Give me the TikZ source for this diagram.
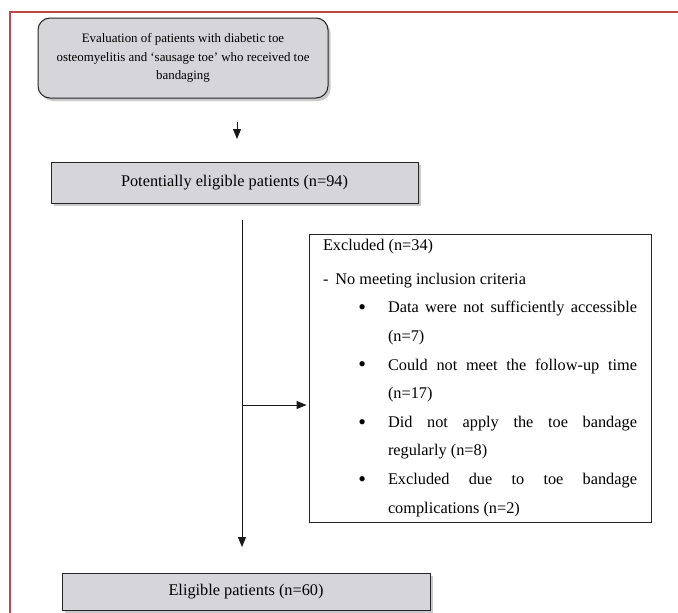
\documentclass[tikz,border=0pt]{standalone}
\usepackage{fontspec}
\setmainfont{Liberation Serif}
\usetikzlibrary{arrows.meta,shadows}
\definecolor{framered}{RGB}{192,70,78}
\definecolor{boxgray}{RGB}{214,214,218}
\newcommand{\bulitem}{\leavevmode\llap{\raisebox{-1.8pt}{\fontsize{22}{22}\selectfont\textbullet}\hspace{22pt}}}
\begin{document}
\begin{tikzpicture}[x=1pt,y=-1pt,
  graybox/.style={draw=black!85,line width=1pt,fill=boxgray,
    drop shadow={shadow xshift=2.5pt,shadow yshift=-3pt,opacity=0.35,fill=black!60},
    inner sep=0pt,align=center},
  plainbox/.style={draw=black!85,line width=0.9pt,fill=white,inner sep=0pt},
  arr/.style={-{Triangle[length=10pt,width=8pt]},line width=0.9pt,draw=black!90},
  bigtext/.style={font=\fontsize{16.3}{20}\selectfont},
  smalltext/.style={font=\fontsize{12.9}{18.5}\selectfont}]
\useasboundingbox (0,0) rectangle (678,613);
% frame
\draw[framered,line width=1.5pt] (10,613) -- (10,12) -- (678,12);
% boxes
\node[graybox,smalltext,rounded corners=12pt,minimum width=290pt,minimum height=80pt] (top) at (183,58)
  {Evaluation of patients with diabetic toe\\osteomyelitis and `sausage toe' who received toe\\bandaging};
\node[graybox,bigtext,minimum width=367pt,minimum height=41pt] (pot) at (234.5,182.5)
  {Potentially eligible patients (n=94)};
\node[graybox,bigtext,minimum width=368pt,minimum height=37pt] (elig) at (246,591.5)
  {Eligible patients (n=60)};
\node[plainbox,minimum width=342pt,minimum height=288pt] (excl) at (480,378) {%
\begin{minipage}{314pt}\fontsize{16.3}{28.6}\selectfont\setlength{\parindent}{0pt}%
\tolerance=10000\hbadness=10000
Excluded (n=34)\par\vspace{5pt}
-\hspace{7pt}No meeting inclusion criteria\par
\leftskip=65pt
\bulitem Data were not sufficiently accessible\linebreak (n=7)\par
\bulitem Could not meet the follow-up time\linebreak (n=17)\par
\bulitem Did not apply the toe bandage\linebreak regularly (n=8)\par
\bulitem Excluded due to toe bandage\linebreak complications (n=2)\par
\end{minipage}};
% connectors
\coordinate (a1) at (237,122);
\coordinate (a2) at (237,139);
\draw[arr] (a1) -- (a2);
\coordinate (v1) at (242,220);
\coordinate (v2) at (242,547);
\draw[arr] (v1) -- (v2);
\coordinate (h1) at (243,405);
\draw[arr,shorten >=2pt] (h1) -- (h1 -| excl.west);
\end{tikzpicture}
\end{document}
